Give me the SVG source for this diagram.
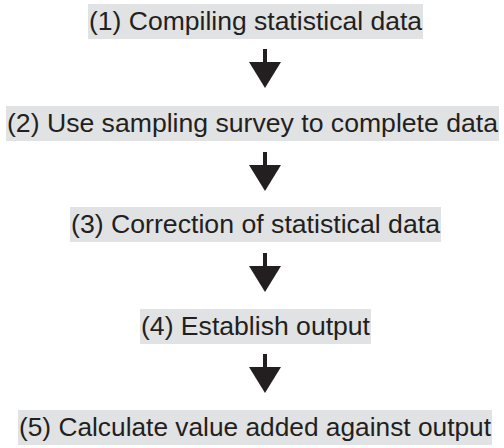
<svg xmlns="http://www.w3.org/2000/svg" width="504" height="448" viewBox="0 0 504 448">
<style>
.box{fill:#e1e2e3}
.t{font-family:"Liberation Sans",Arial,sans-serif;font-size:26px;fill:#231f20}
.arr{fill:#231f20}
</style>
<defs>
<g id="arrow"><rect x="-2" y="0" width="4" height="14" class="arr"/><polygon points="-16,13 16,13 0,39" class="arr"/></g>
</defs>
<rect width="504" height="448" fill="#fff"/>
<g id="n1"><rect class="box" x="88" y="4" width="335" height="35"/><text class="t" x="89" y="30" textLength="333" lengthAdjust="spacingAndGlyphs">(1) Compiling statistical data</text></g>
<g id="n2"><rect class="box" x="6" y="106" width="493" height="35"/><text class="t" x="7" y="132" textLength="491" lengthAdjust="spacingAndGlyphs">(2) Use sampling survey to complete data</text></g>
<g id="n3"><rect class="box" x="70" y="207" width="371" height="35"/><text class="t" x="71" y="233" textLength="369" lengthAdjust="spacingAndGlyphs">(3) Correction of statistical data</text></g>
<g id="n4"><rect class="box" x="140" y="309" width="231" height="35"/><text class="t" x="141" y="335" textLength="229" lengthAdjust="spacingAndGlyphs">(4) Establish output</text></g>
<g id="n5"><rect class="box" x="18" y="410" width="474" height="35"/><text class="t" x="19" y="436" textLength="472" lengthAdjust="spacingAndGlyphs">(5) Calculate value added against output</text></g>
<g id="connectors">
<use href="#arrow" x="265" y="49"/>
<use href="#arrow" x="265" y="152"/>
<use href="#arrow" x="265" y="253"/>
<use href="#arrow" x="265" y="354"/>
</g>
</svg>
